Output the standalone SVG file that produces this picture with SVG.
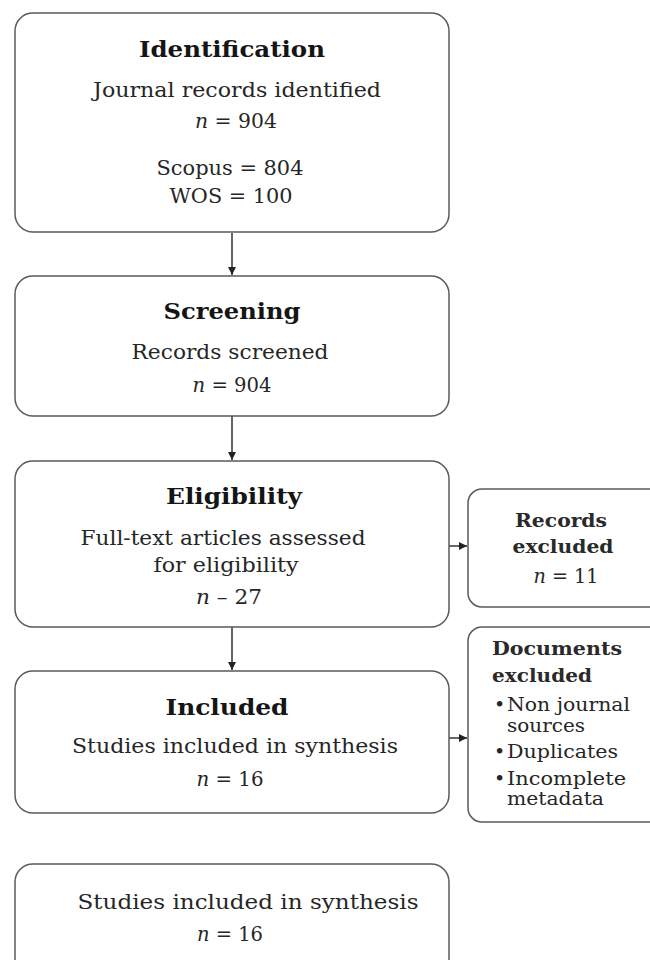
<svg xmlns="http://www.w3.org/2000/svg" width="650" height="960" viewBox="0 0 650 960">
<defs>
<style>
.box{fill:#ffffff;stroke:#5a5a5a;stroke-width:1.5}
text{font-family:"DejaVu Serif","Liberation Serif",serif;fill:#262626}
.t{font-size:23px;font-weight:bold;text-anchor:middle;fill:#151515}
.b{font-size:20px;text-anchor:middle}
.s{font-size:19px;font-weight:bold;fill:#2a2a2a}
.sc{text-anchor:middle}
.l{font-size:19px}
.con{stroke:#333;stroke-width:1.5;fill:none}
</style>
<marker id="ah" markerWidth="10" markerHeight="10" refX="9" refY="5" orient="auto" markerUnits="userSpaceOnUse">
<path d="M1,1 L9,5 L1,9 Z" fill="#222"/>
</marker>
</defs>
<rect width="650" height="960" fill="#ffffff"/>

<g id="connectors">
<line class="con" x1="232" y1="233" x2="232" y2="275" marker-end="url(#ah)"/>
<line class="con" x1="232" y1="416" x2="232" y2="460" marker-end="url(#ah)"/>
<line class="con" x1="232" y1="627" x2="232" y2="670" marker-end="url(#ah)"/>
<line class="con" x1="449" y1="546" x2="467" y2="546" marker-end="url(#ah)"/>
<line class="con" x1="449" y1="738" x2="467" y2="738" marker-end="url(#ah)"/>
</g>

<g id="identification">
<rect class="box" x="15" y="13" width="434" height="219" rx="18"/>
<text class="t" x="232" y="57" textLength="186" lengthAdjust="spacingAndGlyphs">Identification</text>
<text class="b" x="237" y="97" textLength="288" lengthAdjust="spacingAndGlyphs">Journal records identified</text>
<text class="b" x="236" y="128" textLength="82" lengthAdjust="spacingAndGlyphs"><tspan font-style="italic">n</tspan> = 904</text>
<text class="b" x="230" y="175" textLength="147" lengthAdjust="spacingAndGlyphs">Scopus = 804</text>
<text class="b" x="231" y="203" textLength="123" lengthAdjust="spacingAndGlyphs">WOS = 100</text>
</g>

<g id="screening">
<rect class="box" x="15" y="276" width="434" height="140" rx="18"/>
<text class="t" x="232" y="319" textLength="137" lengthAdjust="spacingAndGlyphs">Screening</text>
<text class="b" x="230" y="359" textLength="197" lengthAdjust="spacingAndGlyphs">Records screened</text>
<text class="b" x="232" y="392" textLength="79" lengthAdjust="spacingAndGlyphs"><tspan font-style="italic">n</tspan> = 904</text>
</g>

<g id="eligibility">
<rect class="box" x="15" y="461" width="434" height="166" rx="18"/>
<text class="t" x="234" y="504" textLength="136" lengthAdjust="spacingAndGlyphs">Eligibility</text>
<text class="b" x="223" y="545" textLength="285" lengthAdjust="spacingAndGlyphs">Full-text articles assessed</text>
<text class="b" x="226" y="572" textLength="145" lengthAdjust="spacingAndGlyphs">for eligibility</text>
<text class="b" x="229" y="604" textLength="66" lengthAdjust="spacingAndGlyphs"><tspan font-style="italic">n</tspan> – 27</text>
</g>

<g id="records-excluded">
<rect class="box" x="468" y="489" width="200" height="118" rx="14"/>
<text class="s sc" x="561" y="527" textLength="92" lengthAdjust="spacingAndGlyphs">Records</text>
<text class="s sc" x="563" y="553" textLength="101" lengthAdjust="spacingAndGlyphs">excluded</text>
<text class="b" x="566" y="583" textLength="65" lengthAdjust="spacingAndGlyphs"><tspan font-style="italic">n</tspan> = 11</text>
</g>

<g id="included">
<rect class="box" x="15" y="671" width="434" height="142" rx="18"/>
<text class="t" x="227" y="715" textLength="123" lengthAdjust="spacingAndGlyphs">Included</text>
<text class="b" x="235" y="753" textLength="326" lengthAdjust="spacingAndGlyphs">Studies included in synthesis</text>
<text class="b" x="230" y="786" textLength="67" lengthAdjust="spacingAndGlyphs"><tspan font-style="italic">n</tspan> = 16</text>
</g>

<g id="documents-excluded">
<rect class="box" x="468" y="627" width="200" height="195" rx="14"/>
<text class="s" x="492" y="655" textLength="130" lengthAdjust="spacingAndGlyphs">Documents</text>
<text class="s" x="492" y="682" textLength="100" lengthAdjust="spacingAndGlyphs">excluded</text>
<text class="l" y="711"><tspan x="494">•</tspan><tspan x="507" textLength="123" lengthAdjust="spacingAndGlyphs">Non journal</tspan></text>
<text class="l" x="507" y="732" textLength="78" lengthAdjust="spacingAndGlyphs">sources</text>
<text class="l" y="758"><tspan x="494">•</tspan><tspan x="507" textLength="111" lengthAdjust="spacingAndGlyphs">Duplicates</tspan></text>
<text class="l" y="785"><tspan x="494">•</tspan><tspan x="507" textLength="119" lengthAdjust="spacingAndGlyphs">Incomplete</tspan></text>
<text class="l" x="507" y="805" textLength="97" lengthAdjust="spacingAndGlyphs">metadata</text>
</g>

<g id="synthesis">
<rect class="box" x="15" y="864" width="434" height="120" rx="18"/>
<text class="b" x="248" y="909" textLength="341" lengthAdjust="spacingAndGlyphs" font-size="21" fill="#1a1a1a">Studies included in synthesis</text>
<text class="b" x="230" y="941" textLength="66" lengthAdjust="spacingAndGlyphs"><tspan font-style="italic">n</tspan> = 16</text>
</g>
</svg>
